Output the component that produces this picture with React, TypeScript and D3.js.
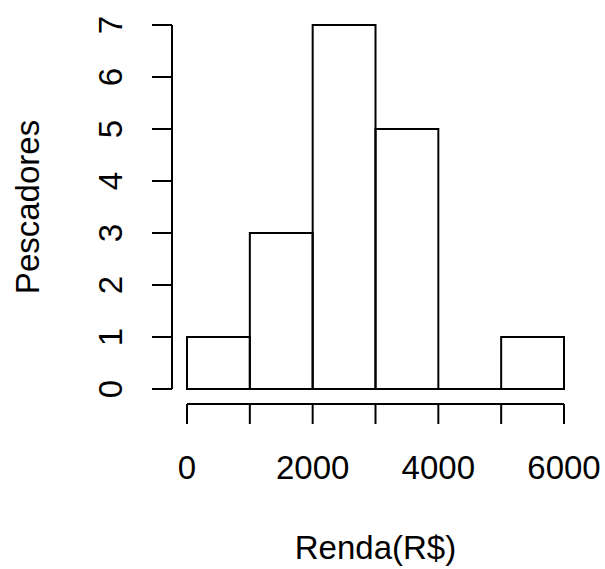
import React from "react";
import * as d3 from "d3";

const binStarts = [0, 1000, 2000, 3000, 4000, 5000];
const binWidth = 1000;
const counts = [1, 3, 7, 5, 0, 1];
const xTicks = [0, 1000, 2000, 3000, 4000, 5000, 6000];
const xTickLabels = [0, 2000, 4000, 6000];
const yTicks = [0, 1, 2, 3, 4, 5, 6, 7];
const xTitle = "Renda(R$)";
const yTitle = "Pescadores";

export default function App() {
  const W = 605, H = 569;
  const x = d3.scaleLinear().domain([0, 6000]).range([187, 564]);
  const y = d3.scaleLinear().domain([0, 7]).range([389, 25]);
  const font = "Arial, 'Liberation Sans', sans-serif";
  const fs = 33;
  const axisY = 404;
  const axisX = 172;
  return (
    <svg width={W} height={H} style={{ position: "absolute", left: 0, top: 0, background: "#fff" }}>
      <g fill="none" stroke="#000" strokeWidth={2}>
        {binStarts.map((s, i) =>
          counts[i] > 0 ? (
            <rect key={i} x={x(s)} y={y(counts[i])} width={x(s + binWidth) - x(s)} height={y(0) - y(counts[i])} />
          ) : (
            <line key={i} x1={x(s)} x2={x(s + binWidth)} y1={y(0)} y2={y(0)} />
          )
        )}
        {/* x axis */}
        <line x1={x(0)} x2={x(6000)} y1={axisY} y2={axisY} />
        {xTicks.map((t) => (
          <line key={t} x1={x(t)} x2={x(t)} y1={axisY} y2={axisY + 20} />
        ))}
        {/* y axis */}
        <line x1={axisX} x2={axisX} y1={y(0)} y2={y(7)} />
        {yTicks.map((t) => (
          <line key={t} x1={axisX} x2={axisX - 20} y1={y(t)} y2={y(t)} />
        ))}
      </g>
      <g fontFamily={font} fontSize={fs} fill="#000">
        {xTickLabels.map((t) => (
          <text key={t} x={x(t)} y={479} textAnchor="middle">{t}</text>
        ))}
        {yTicks.map((t) => (
          <text key={t} transform={`translate(122,${y(t)}) rotate(-90)`} textAnchor="middle">{t}</text>
        ))}
        <text x={(x(0) + x(6000)) / 2} y={559} textAnchor="middle">{xTitle}</text>
        <text transform={`translate(39,${(y(0) + y(7)) / 2}) rotate(-90)`} textAnchor="middle">{yTitle}</text>
      </g>
    </svg>
  );
}
